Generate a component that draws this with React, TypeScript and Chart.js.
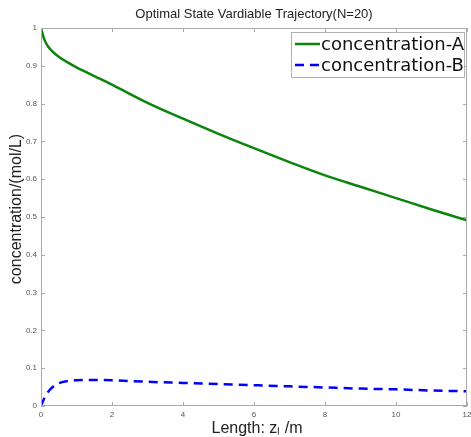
import React, { useEffect, useRef } from "react";
import { Chart, registerables } from "chart.js";

Chart.register(...registerables);

const zA = [0, 0.1, 0.25, 0.5, 0.75, 1, 1.5, 2, 3, 4, 5, 6, 7, 8, 9, 10, 11, 12];
const concA = [1, 0.968, 0.945, 0.924, 0.909, 0.896, 0.873, 0.85, 0.802, 0.76, 0.72, 0.682, 0.645, 0.61, 0.58, 0.55, 0.52, 0.491];
const zB = [0, 0.1, 0.25, 0.5, 0.75, 1, 1.5, 2, 3, 4, 5, 6, 7, 8, 9, 10, 11, 12];
const concB = [0, 0.022, 0.043, 0.06, 0.066, 0.068, 0.069, 0.068, 0.064, 0.061, 0.058, 0.055, 0.052, 0.049, 0.046, 0.044, 0.041, 0.039];
const xTicks = [0, 2, 4, 6, 8, 10, 12];
const yTicks = [0, 0.1, 0.2, 0.3, 0.4, 0.5, 0.6, 0.7, 0.8, 0.9, 1];
const titleText = "Optimal State Vardiable Trajectory(N=20)";
const xTitle = "Length: z\u2097 /m";
const yTitle = "concentration/(mol/L)";
const labels = ["concentration-A", "concentration-B"];

const axisColor = "#aaaaaa";
const font = "'Liberation Sans', Arial, sans-serif";

const decor = {
  id: "decor",
  afterDraw(chart: any) {
    const ctx = chart.ctx;
    const a = chart.chartArea;
    const xs = chart.scales.x;
    const ys = chart.scales.y;
    ctx.save();
    // frame
    ctx.strokeStyle = axisColor;
    ctx.lineWidth = 1;
    ctx.strokeRect(a.left + 0.5, a.top + 0.5, a.right - a.left - 1, a.bottom - a.top - 1);
    // inward ticks
    ctx.beginPath();
    xTicks.forEach((t) => {
      const px = Math.round(xs.getPixelForValue(t)) + 0.5;
      ctx.moveTo(px, a.bottom);
      ctx.lineTo(px, a.bottom - 4);
      ctx.moveTo(px, a.top);
      ctx.lineTo(px, a.top + 4);
    });
    yTicks.forEach((t) => {
      const py = Math.round(ys.getPixelForValue(t)) + 0.5;
      ctx.moveTo(a.left, py);
      ctx.lineTo(a.left + 4, py);
      ctx.moveTo(a.right, py);
      ctx.lineTo(a.right - 4, py);
    });
    ctx.stroke();
    // title
    ctx.fillStyle = "#222";
    ctx.textAlign = "center";
    ctx.textBaseline = "middle";
    ctx.font = `13px ${font}`;
    ctx.fillText(titleText, 254, 14);
    ctx.font = `16px ${font}`;
    ctx.fillText(xTitle, 257, 429);
    ctx.save();
    ctx.translate(17, 209);
    ctx.rotate(-Math.PI / 2);
    ctx.fillText(yTitle, 0, 0);
    ctx.restore();
    // legend
    const lx = 291, ly = 32, lw = 173, lh = 45;
    ctx.fillStyle = "#fff";
    ctx.fillRect(lx, ly, lw, lh);
    ctx.strokeStyle = "#b0b0b0";
    ctx.lineWidth = 1;
    ctx.strokeRect(lx + 0.5, ly + 0.5, lw, lh);
    const ds = chart.data.datasets;
    ctx.font = `18px 'DejaVu Sans', sans-serif`;
    ctx.textAlign = "left";
    ds.forEach((d: any, i: number) => {
      const y = ly + 12 + i * 21;
      ctx.strokeStyle = d.borderColor;
      ctx.lineWidth = 2.5;
      ctx.setLineDash(d.borderDash || []);
      ctx.beginPath();
      ctx.moveTo(lx + 4, y);
      ctx.lineTo(lx + 29, y);
      ctx.stroke();
      ctx.setLineDash([]);
      ctx.fillStyle = "#111";
      ctx.fillText(d.label, lx + 30, y + 1);
    });
    ctx.restore();
  },
};

export default function App() {
  const ref = useRef<HTMLCanvasElement>(null);
  useEffect(() => {
    document.body.style.margin = "0";
    const chart = new Chart(ref.current!, {
      type: "line",
      data: {
        datasets: [
          {
            label: labels[0],
            data: zA.map((x, i) => ({ x, y: concA[i] })),
            borderColor: "#0a840a",
            borderWidth: 2.5,
            pointRadius: 0,
            cubicInterpolationMode: "monotone",
          },
          {
            label: labels[1],
            data: zB.map((x, i) => ({ x, y: concB[i] })),
            borderColor: "#0000ff",
            borderWidth: 2.5,
            borderDash: [9, 6],
            pointRadius: 0,
            cubicInterpolationMode: "monotone",
          },
        ],
      },
      options: {
        responsive: false,
        animation: false,
        layout: { padding: { top: 28, right: 4, left: 0, bottom: 0 } },
        plugins: { legend: { display: false }, title: { display: false }, tooltip: { enabled: false } },
        scales: {
          x: {
            type: "linear",
            min: 0,
            max: 12,
            afterFit: (s: any) => { s.height = 31; s.paddingLeft = 0; s.paddingRight = 0; },
            afterBuildTicks: (s: any) => { s.ticks = xTicks.map((v) => ({ value: v })); },
            grid: { display: false, drawTicks: false },
            border: { display: false },
            ticks: { color: "#555", font: { size: 8, family: font }, padding: 4, maxRotation: 0 },
          },
          y: {
            type: "linear",
            min: 0,
            max: 1,
            afterFit: (s: any) => { s.width = 41; s.paddingTop = 0; s.paddingBottom = 0; },
            afterBuildTicks: (s: any) => { s.ticks = yTicks.map((v) => ({ value: v })); },
            grid: { display: false, drawTicks: false },
            border: { display: false },
            ticks: {
              color: "#555",
              font: { size: 8, family: font },
              padding: 4,
              callback: (v: any) => String(+Number(v).toFixed(1)),
            },
          },
        },
      },
      plugins: [decor],
    } as any);
    return () => chart.destroy();
  }, []);
  return <canvas ref={ref} width={471} height={437} />;
}
